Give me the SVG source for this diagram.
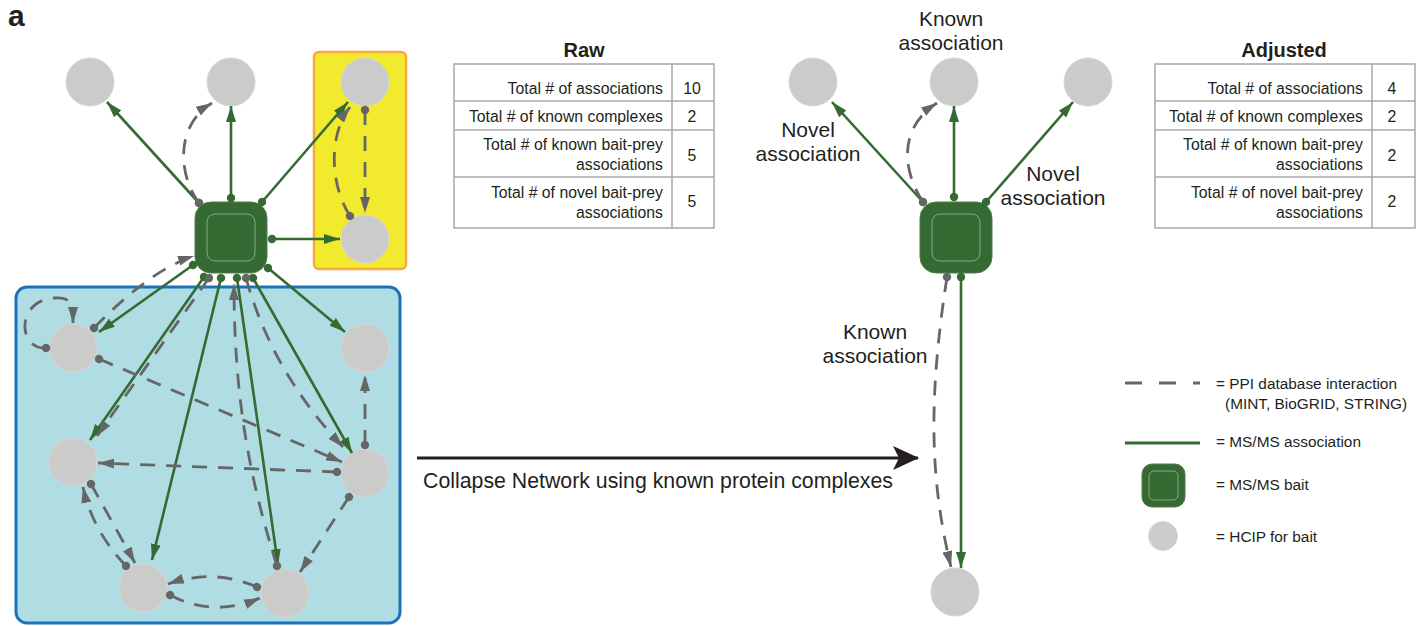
<svg xmlns="http://www.w3.org/2000/svg" width="1428" height="626" viewBox="0 0 1428 626">
  <style>
    text { font-family: "Liberation Sans", Arial, sans-serif; fill: #231f20; }
    .lbl { font-size: 21px; text-anchor: middle; }
    .cell { font-size: 15.8px; text-anchor: end; }
    .num { font-size: 15.8px; text-anchor: middle; }
    .ttl { font-size: 20px; font-weight: bold; text-anchor: middle; }
    .leg { font-size: 15.4px; }
    .prey { fill: #cbcbc9; stroke: #d6d6d4; stroke-width: 1; }
    .bait { fill: #356a33; stroke: #4d7d4a; stroke-width: 1; }
    .bait-in { fill: none; stroke: #86a883; stroke-width: 1; }
    .ms { fill: none; stroke: #356a33; stroke-width: 2.6; marker-start: url(#gdot); marker-end: url(#garr); }
    .ppi { fill: none; stroke: #666666; stroke-width: 2.8; stroke-dasharray: 15 11; marker-start: url(#pdot); marker-end: url(#parr); }
    .grid { fill: none; stroke: #a8a8a8; stroke-width: 1.5; }
  </style>
  <defs>
    <marker id="garr" markerUnits="userSpaceOnUse" viewBox="0 0 16 10" refX="16" refY="5" markerWidth="16" markerHeight="10" orient="auto">
      <path d="M0,0 L16,5 L0,10 z" fill="#356a33"/>
    </marker>
    <marker id="gdot" markerUnits="userSpaceOnUse" viewBox="0 0 10 10" refX="5" refY="5" markerWidth="10" markerHeight="10" orient="auto">
      <circle cx="5" cy="5" r="4.2" fill="#356a33"/>
    </marker>
    <marker id="parr" markerUnits="userSpaceOnUse" viewBox="0 0 16 10" refX="16" refY="5" markerWidth="16" markerHeight="10" orient="auto">
      <path d="M0,0 L16,5 L0,10 z" fill="#666666"/>
    </marker>
    <marker id="pdot" markerUnits="userSpaceOnUse" viewBox="0 0 10 10" refX="5" refY="5" markerWidth="10" markerHeight="10" orient="auto">
      <circle cx="5" cy="5" r="4.2" fill="#666666"/>
    </marker>
    <marker id="bigarr" markerUnits="userSpaceOnUse" viewBox="0 0 26 24" refX="25" refY="12" markerWidth="26" markerHeight="24" orient="auto">
      <path d="M0,0 L26,12 L0,24 L6,12 z" fill="#231f20"/>
    </marker>
  </defs>

  <text x="8" y="26" font-size="30" font-weight="bold">a</text>

  <!-- complex backgrounds -->
  <rect id="complex-yellow" x="314" y="52" width="92" height="217" rx="5" fill="#f2ea2e" stroke="#f9a83c" stroke-width="2.5"/>
  <rect id="complex-blue" x="16" y="287" width="384" height="336" rx="11" fill="#b0dde3" stroke="#1b74bb" stroke-width="3"/>

  <!-- raw network nodes -->
  <g id="bait-raw">
    <rect class="bait" x="195" y="202" width="72" height="71" rx="16"/>
    <rect class="bait-in" x="207" y="214" width="48" height="47" rx="8"/>
  </g>
  <g id="p1"><circle class="prey" cx="90" cy="82" r="24"/></g>
  <g id="p2"><circle class="prey" cx="231" cy="82" r="24"/></g>
  <g id="p3"><circle class="prey" cx="365" cy="82" r="24"/></g>
  <g id="p4"><circle class="prey" cx="365" cy="239" r="24"/></g>
  <g id="pA"><circle class="prey" cx="73" cy="348" r="24"/></g>
  <g id="pB"><circle class="prey" cx="365" cy="348" r="24"/></g>
  <g id="pC"><circle class="prey" cx="73" cy="462" r="24"/></g>
  <g id="pD"><circle class="prey" cx="365" cy="473" r="24"/></g>
  <g id="pE"><circle class="prey" cx="143" cy="588" r="24"/></g>
  <g id="pF"><circle class="prey" cx="285" cy="593" r="24"/></g>

  <!-- adjusted network nodes -->
  <g id="bait-adj">
    <rect class="bait" x="920" y="202" width="72" height="71" rx="16"/>
    <rect class="bait-in" x="932" y="214" width="48" height="47" rx="8"/>
  </g>
  <g id="q1"><circle class="prey" cx="813" cy="82" r="24"/></g>
  <g id="q2"><circle class="prey" cx="954" cy="82" r="24"/></g>
  <g id="q3"><circle class="prey" cx="1088" cy="82" r="24"/></g>
  <g id="q4"><circle class="prey" cx="955" cy="592" r="24"/></g>

  <g id="connectors">
    <!-- raw: MS/MS associations -->
    <path class="ms" d="M199,203 L107,102"/>
    <path class="ms" d="M231,198 L231,106"/>
    <path class="ms" d="M262,202 L348,102"/>
    <path class="ms" d="M272,239 L340,239"/>
    <path class="ms" d="M193,265 L99,332"/>
    <path class="ms" d="M204,277 L90,440"/>
    <path class="ms" d="M221,278 L152,560"/>
    <path class="ms" d="M237,278 L278,565"/>
    <path class="ms" d="M253,278 L352,453"/>
    <path class="ms" d="M268,268 L345,332"/>
    <!-- raw: database interactions -->
    <path class="ppi" d="M199,203 C178,175 175,125 212,103"/>
    <path class="ppi" d="M365,110 L365,213"/>
    <path class="ppi" d="M350,216 C330,185 328,135 350,107"/>
    <path class="ppi" d="M94,328 Q150,270 194,256"/>
    <path class="ppi" d="M46,348 C18,350 15,300 55,298 C72,297 73,305 73,323"/>
    <path class="ppi" d="M209,278 L97,436"/>
    <path class="ppi" d="M246,278 Q272,372 343,447"/>
    <path class="ppi" d="M277,566 C250,480 234,400 234,284"/>
    <path class="ppi" d="M99,359 L342,462"/>
    <path class="ppi" d="M337,472 L98,463"/>
    <path class="ppi" d="M365,445 L365,375"/>
    <path class="ppi" d="M349,497 L300,572"/>
    <path class="ppi" d="M91,484 L135,563"/>
    <path class="ppi" d="M126,566 Q92,530 83,487"/>
    <path class="ppi" d="M257,587 Q213,568 168,584"/>
    <path class="ppi" d="M170,595 Q213,618 260,598"/>
    <!-- adjusted network -->
    <path class="ms" d="M923,202 L832,102"/>
    <path class="ms" d="M954,197 L954,106"/>
    <path class="ms" d="M986,202 L1073,102"/>
    <path class="ms" d="M961,277 L961,568"/>
    <path class="ppi" d="M923,202 C905,175 895,130 937,103"/>
    <path class="ppi" d="M947,277 C928,400 930,480 951,567"/>
    <!-- collapse step -->
    <path d="M417,458 L918,458" stroke="#231f20" stroke-width="3" fill="none" marker-end="url(#bigarr)"/>
  </g>

  <text x="423" y="488" font-size="21.3">Collapse Network using known protein complexes</text>

  <!-- association labels -->
  <text class="lbl" x="951" y="26">Known</text>
  <text class="lbl" x="951" y="50">association</text>
  <text class="lbl" x="808" y="137">Novel</text>
  <text class="lbl" x="808" y="161">association</text>
  <text class="lbl" x="1053" y="181">Novel</text>
  <text class="lbl" x="1053" y="205">association</text>
  <text class="lbl" x="875" y="339">Known</text>
  <text class="lbl" x="875" y="363">association</text>

  <!-- raw table -->
  <g id="table-raw">
    <text class="ttl" x="584" y="57">Raw</text>
    <rect class="grid" x="454" y="64" width="260" height="164"/>
    <path class="grid" d="M672,64 V228 M454,101 H714 M454,130 H714 M454,177 H714"/>
    <text class="cell" x="663" y="94">Total # of associations</text>
    <text class="cell" x="663" y="122">Total # of known complexes</text>
    <text class="cell" x="663" y="150">Total # of known bait-prey</text>
    <text class="cell" x="663" y="170">associations</text>
    <text class="cell" x="663" y="198">Total # of novel bait-prey</text>
    <text class="cell" x="663" y="218">associations</text>
    <text class="num" x="692" y="94">10</text>
    <text class="num" x="692" y="122">2</text>
    <text class="num" x="692" y="161">5</text>
    <text class="num" x="692" y="207">5</text>
  </g>

  <!-- adjusted table -->
  <g id="table-adjusted">
    <text class="ttl" x="1284" y="57">Adjusted</text>
    <rect class="grid" x="1155" y="64" width="260" height="164"/>
    <path class="grid" d="M1372,64 V228 M1155,101 H1415 M1155,130 H1415 M1155,177 H1415"/>
    <text class="cell" x="1363" y="94">Total # of associations</text>
    <text class="cell" x="1363" y="122">Total # of known complexes</text>
    <text class="cell" x="1363" y="150">Total # of known bait-prey</text>
    <text class="cell" x="1363" y="170">associations</text>
    <text class="cell" x="1363" y="198">Total # of novel bait-prey</text>
    <text class="cell" x="1363" y="218">associations</text>
    <text class="num" x="1392" y="94">4</text>
    <text class="num" x="1392" y="122">2</text>
    <text class="num" x="1392" y="161">2</text>
    <text class="num" x="1392" y="207">2</text>
  </g>

  <!-- legend -->
  <g id="legend">
    <path d="M1125,383 H1200" stroke="#666666" stroke-width="3" stroke-dasharray="17 17" fill="none"/>
    <text class="leg" x="1216" y="389">= PPI database interaction</text>
    <text class="leg" x="1225" y="409">(MINT, BioGRID, STRING)</text>
    <path d="M1125,443 H1200" stroke="#356a33" stroke-width="3" fill="none"/>
    <text class="leg" x="1216" y="447">= MS/MS association</text>
    <rect class="bait" x="1142" y="464" width="43" height="43" rx="10"/>
    <rect class="bait-in" x="1149" y="471" width="29" height="29" rx="5"/>
    <text class="leg" x="1216" y="490">= MS/MS bait</text>
    <circle class="prey" cx="1163" cy="536" r="14.5"/>
    <text class="leg" x="1216" y="542">= HCIP for bait</text>
  </g>
</svg>
